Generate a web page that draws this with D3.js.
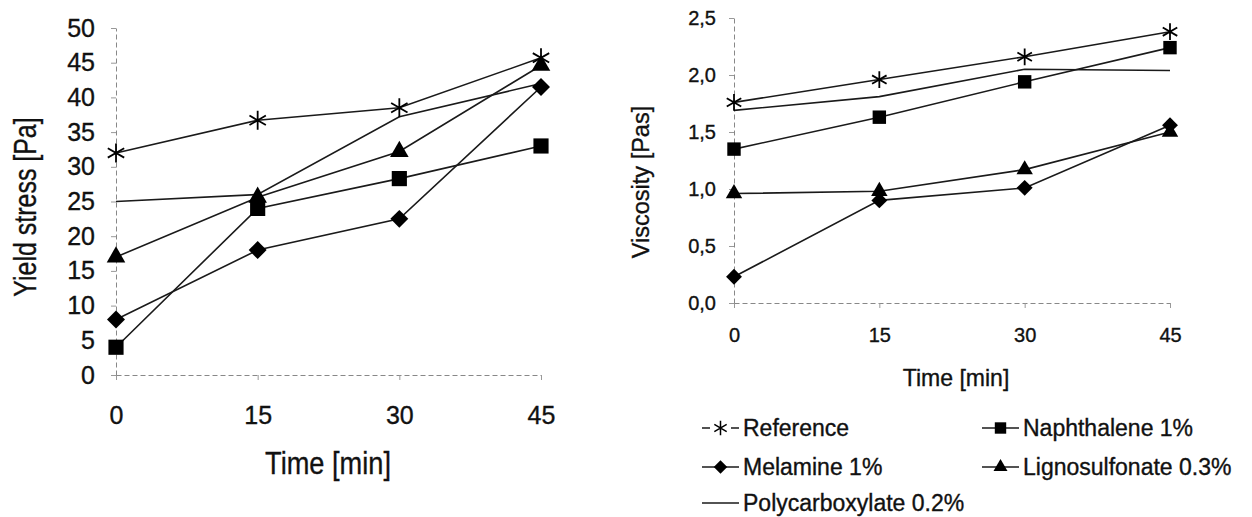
<!DOCTYPE html>
<html>
<head>
<meta charset="utf-8">
<script src="https://cdn.jsdelivr.net/npm/d3@7"></script>
<style>
  body { margin: 0; background: #fff; }
  svg { display: block; font-family: "Liberation Sans", Arial, sans-serif; }
  text { stroke: #111; stroke-width: 0.35px; }
</style>
</head>
<body>
<div id="chart"></div>
<script>
// time axis shared by both panels
const times = [0, 15, 30, 45];
const seriesNames = ["Reference", "Naphthalene 1%", "Melamine 1%", "Lignosulfonate 0.3%", "Polycarboxylate 0.2%"];

// yield stress [Pa]
const yieldReference = [32, 36.7, 38.5, 45.7];
const yieldNaphthalene = [4, 24, 28.3, 33];
const yieldMelamine = [8, 18, 22.5, 41.5];
const yieldLigno = [17, 25.6, 32.2, 44.6];
const yieldPoly = [25, 26, 37.2, 42];

// viscosity [Pas]
const viscReference = [1.76, 1.96, 2.16, 2.38];
const viscNaphthalene = [1.35, 1.63, 1.94, 2.24];
const viscMelamine = [0.23, 0.9, 1.01, 1.56];
const viscLigno = [0.96, 0.98, 1.17, 1.5];
const viscPoly = [1.69, 1.81, 2.05, 2.04];

const yieldTicks = [0, 5, 10, 15, 20, 25, 30, 35, 40, 45, 50];
const viscTicks = [0, 0.5, 1.0, 1.5, 2.0, 2.5];

const W = 1252, H = 517;
const svg = d3.select("#chart").append("svg")
    .attr("width", W)
    .attr("height", H);

// diamond with equal width and height
const diamondType = {
    draw(ctx, size) {
        const r = Math.sqrt(size) / 2;
        ctx.moveTo(0, -r);
        ctx.lineTo(r, 0);
        ctx.lineTo(0, r);
        ctx.lineTo(-r, 0);
        ctx.closePath();
    }
};

const markers = {
    "Reference": { type: d3.symbolAsterisk, filled: false, k: 1.1 },
    "Naphthalene 1%": { type: d3.symbolSquare, filled: true, k: 1 },
    "Melamine 1%": { type: diamondType, filled: true, k: 1.4 },
    "Lignosulfonate 0.3%": { type: d3.symbolTriangle, filled: true, k: 0.65 },
    "Polycarboxylate 0.2%": null
};

function drawPanel(cfg) {
    const x = d3.scaleLinear().domain([0, 45]).range(cfg.xRange);
    const y = d3.scaleLinear().domain(cfg.yDomain).range(cfg.yRange);
    const g = svg.append("g");

    // x axis
    const xa = g.append("g")
        .attr("transform", `translate(0,${cfg.yRange[0]})`)
        .call(d3.axisBottom(x).tickValues(times).tickSize(5).tickSizeOuter(0));
    xa.select(".domain").attr("stroke", "#888").attr("stroke-dasharray", "5,3");
    xa.selectAll(".tick line").attr("stroke", "#999");
    xa.selectAll(".tick text")
        .attr("y", cfg.xLabelOffset)
        .attr("dy", "0.35em")
        .attr("font-size", cfg.tickFont)
        .attr("fill", "#111");

    // y axis
    const ya = g.append("g")
        .attr("transform", `translate(${cfg.xRange[0]},0)`)
        .call(d3.axisLeft(y).tickValues(cfg.ticks).tickSize(5).tickSizeOuter(0)
            .tickFormat(cfg.fmt));
    ya.select(".domain").attr("stroke", "#888").attr("stroke-dasharray", "5,3");
    ya.selectAll(".tick line").attr("stroke", "#999");
    ya.selectAll(".tick text")
        .attr("x", -cfg.yLabelOffset)
        .attr("font-size", cfg.tickFont)
        .attr("fill", "#111");

    // series lines
    const line = d3.line().x((d, i) => x(times[i])).y(d => y(d));
    cfg.series.forEach(s => {
        g.append("path")
            .datum(s.values)
            .attr("d", line)
            .attr("fill", "none")
            .attr("stroke", "#1a1a1a")
            .attr("stroke-width", 1.6);
    });

    // markers
    cfg.series.forEach(s => {
        const m = markers[s.name];
        if (!m) return;
        g.selectAll(null)
            .data(s.values)
            .enter()
            .append("path")
            .attr("transform", (d, i) => `translate(${x(times[i])},${y(d)})`)
            .attr("d", d3.symbol().type(m.type).size(cfg.markerSize * m.k))
            .attr("fill", m.filled ? "#000" : "none")
            .attr("stroke", "#000")
            .attr("stroke-width", m.filled ? 0 : 1.8);
    });

    // axis titles
    g.append("text")
        .attr("transform", `translate(${cfg.xTitle[0]},${cfg.xTitle[1]}) scale(${cfg.xTitleScale},1)`)
        .attr("text-anchor", "middle")
        .attr("dy", "0.35em")
        .attr("font-size", cfg.titleFont)
        .attr("fill", "#111")
        .text("Time [min]");

    g.append("text")
        .attr("transform", `translate(${cfg.yTitle[0]},${cfg.yTitle[1]}) rotate(-90) scale(${cfg.yTitleScale},1)`)
        .attr("text-anchor", "middle")
        .attr("dy", "0.35em")
        .attr("font-size", cfg.titleFont)
        .attr("fill", "#111")
        .text(cfg.yTitleText);
}

drawPanel({
    xRange: [116, 541],
    yDomain: [0, 50],
    yRange: [375, 28],
    ticks: yieldTicks,
    fmt: d3.format("d"),
    tickFont: 25,
    xLabelOffset: 40,
    yLabelOffset: 21,
    markerSize: 230,
    titleFont: 32,
    xTitle: [328, 463],
    xTitleScale: 0.85,
    yTitle: [25, 207],
    yTitleScale: 0.78,
    yTitleText: "Yield stress [Pa]",
    series: [
        { name: "Reference", values: yieldReference },
        { name: "Naphthalene 1%", values: yieldNaphthalene },
        { name: "Melamine 1%", values: yieldMelamine },
        { name: "Lignosulfonate 0.3%", values: yieldLigno },
        { name: "Polycarboxylate 0.2%", values: yieldPoly }
    ]
});

drawPanel({
    xRange: [734, 1170],
    yDomain: [0, 2.5],
    yRange: [303, 18],
    ticks: viscTicks,
    fmt: d => d3.format(".1f")(d).replace(".", ","),
    tickFont: 20,
    xLabelOffset: 32,
    yLabelOffset: 18,
    markerSize: 180,
    titleFont: 24,
    xTitle: [956, 378],
    xTitleScale: 0.96,
    yTitle: [641, 182],
    yTitleScale: 0.98,
    yTitleText: "Viscosity [Pas]",
    series: [
        { name: "Reference", values: viscReference },
        { name: "Naphthalene 1%", values: viscNaphthalene },
        { name: "Melamine 1%", values: viscMelamine },
        { name: "Lignosulfonate 0.3%", values: viscLigno },
        { name: "Polycarboxylate 0.2%", values: viscPoly }
    ]
});

// legend under the right panel
const legendPos = {
    "Reference": [702, 428],
    "Naphthalene 1%": [982, 428],
    "Melamine 1%": [702, 467],
    "Lignosulfonate 0.3%": [982, 467],
    "Polycarboxylate 0.2%": [702, 503]
};
const legend = svg.append("g");
seriesNames.forEach(name => {
    const [lx, ly] = legendPos[name];
    const item = legend.append("g").attr("transform", `translate(${lx},${ly})`);
    const m = markers[name];
    item.append("line")
        .attr("x1", 0).attr("x2", 37)
        .attr("y1", 0).attr("y2", 0)
        .attr("stroke", "#1a1a1a")
        .attr("stroke-width", 1.6)
        .attr("stroke-dasharray", name === "Reference" ? "8,21,8" : null);
    if (m) {
        item.append("path")
            .attr("transform", "translate(18.5,0)")
            .attr("d", d3.symbol().type(m.type).size(130 * m.k))
            .attr("fill", m.filled ? "#000" : "none")
            .attr("stroke", "#000")
            .attr("stroke-width", m.filled ? 0 : 1.5);
    }
    item.append("text")
        .attr("x", 41)
        .attr("dy", "0.35em")
        .attr("font-size", 23)
        .attr("fill", "#111")
        .text(name);
});
</script>
</body>
</html>
